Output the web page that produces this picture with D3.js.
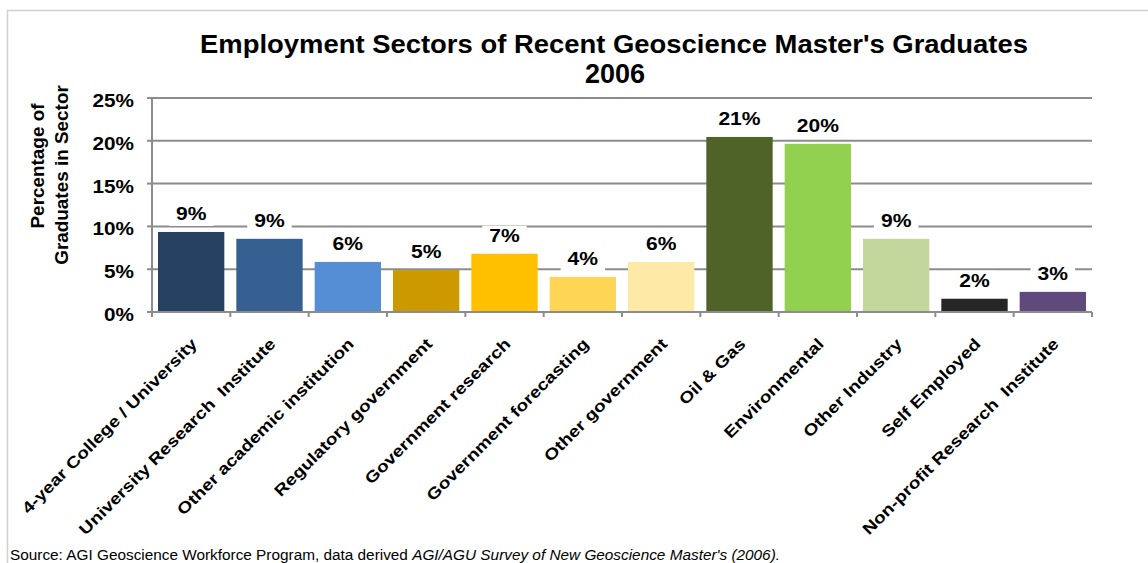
<!DOCTYPE html>
<html lang="en">
<head>
    <title>Employment Sectors</title>
    <style>
        body { margin: 0; background: #fff; }
        svg text { font-family: "Liberation Sans", Arial, sans-serif; }
        .grid line { stroke: #8c8c8c; stroke-width: 2; }
        .bar-label { font-weight: bold; font-size: 18px; fill: #000; }
        .ytick { font-weight: bold; font-size: 18px; }
        .xlabel { font-weight: bold; font-size: 16px; }
    </style>
</head>
<body>
<div id="chart"></div>
<script src="https://d3js.org/d3.v7.min.js"></script>
<script>
    var categories = ["4-year College / University", "University Research  Institute", "Other academic institution",
        "Regulatory government", "Government research", "Government forecasting", "Other government",
        "Oil & Gas", "Environmental", "Other Industry", "Self Employed", "Non-profit Research  Institute"];
    var values = [9.35, 8.55, 5.85, 4.9, 6.8, 4.1, 5.85, 20.45, 19.65, 8.55, 1.55, 2.35];
    var valueLabels = ["9%", "9%", "6%", "5%", "7%", "4%", "6%", "21%", "20%", "9%", "2%", "3%"];
    var barColors = ["#264061", "#376092", "#558ed5", "#cc9a00", "#ffc000", "#ffd556", "#ffe9a6",
        "#4f6228", "#92d050", "#c3d69b", "#262626", "#604a7b"];
    var yTicks = [0, 5, 10, 15, 20, 25];

    var width = 1148, height = 563;
    var margin = {left: 152, right: 56, top: 98, bottom: 251};

    // the original text renders wider than Liberation Sans, so widen glyphs a bit
    function stretch(sel, f) {
        sel.each(function () {
            var w = this.getComputedTextLength();
            d3.select(this).attr("textLength", w * f).attr("lengthAdjust", "spacingAndGlyphs");
        });
    }

    var svg = d3.select("#chart").append("svg")
        .attr("width", width).attr("height", height);

    // outer frame
    svg.append("path")
        .attr("d", "M7.5," + height + "V10.5H" + width)
        .attr("fill", "none").attr("stroke", "#d0d0d0").attr("stroke-width", 1.5);

    var x = d3.scaleBand().domain(categories).range([margin.left, width - margin.right]).padding(0);
    var y = d3.scaleLinear().domain([0, 25]).range([height - margin.bottom, margin.top]);

    // gridlines
    svg.append("g").attr("class", "grid").selectAll("line").data(yTicks.slice(1)).enter().append("line")
        .attr("x1", margin.left).attr("x2", width - margin.right)
        .attr("y1", function (d) { return y(d); }).attr("y2", function (d) { return y(d); });

    // y tick labels
    svg.append("g").selectAll("text").data(yTicks).enter().append("text")
        .attr("class", "ytick")
        .attr("x", margin.left - 18)
        .attr("y", function (d) { return y(d) + 9; })
        .attr("text-anchor", "end")
        .text(function (d) { return d + "%"; })
        .call(stretch, 1.15);

    // bars
    svg.append("g").selectAll("rect").data(values).enter().append("rect")
        .attr("x", function (d, i) { return x(categories[i]) + 6; })
        .attr("width", x.bandwidth() - 12)
        .attr("y", function (d) { return y(d); })
        .attr("height", function (d) { return y(0) - y(d); })
        .attr("fill", function (d, i) { return barColors[i]; });

    // data labels with white boxes behind them
    var lab = svg.append("g").selectAll("g").data(values).enter().append("g");
    var boxes = lab.append("rect").attr("fill", "#fff");
    var labTxt = lab.append("text")
        .attr("class", "bar-label")
        .attr("x", function (d, i) { return x(categories[i]) + x.bandwidth() / 2; })
        .attr("y", function (d) { return y(d) - 12; })
        .attr("text-anchor", "middle")
        .text(function (d, i) { return valueLabels[i]; })
        .call(stretch, 1.17);
    boxes.each(function (d, i) {
        var w = +labTxt.nodes()[i].getAttribute("textLength") + 14;
        d3.select(this)
            .attr("x", x(categories[i]) + x.bandwidth() / 2 - w / 2)
            .attr("width", w)
            .attr("y", y(d) - 28)
            .attr("height", 22);
    });

    // x axis line and ticks
    var axisY = y(0);
    svg.append("line").attr("x1", margin.left).attr("x2", width - margin.right)
        .attr("y1", axisY).attr("y2", axisY).attr("stroke", "#8c8c8c").attr("stroke-width", 2);
    svg.append("line").attr("x1", margin.left).attr("x2", margin.left)
        .attr("y1", margin.top).attr("y2", axisY + 5).attr("stroke", "#8c8c8c").attr("stroke-width", 2);
    var bounds = categories.map(function (c) { return x(c); }).concat([width - margin.right]);
    svg.append("g").selectAll("line").data(bounds).enter().append("line")
        .attr("x1", function (d) { return d; }).attr("x2", function (d) { return d; })
        .attr("y1", axisY).attr("y2", axisY + 5)
        .attr("stroke", "#8c8c8c").attr("stroke-width", 2);

    // y tick marks
    svg.append("g").selectAll("line").data(yTicks).enter().append("line")
        .attr("x1", margin.left - 5).attr("x2", margin.left)
        .attr("y1", function (d) { return y(d); }).attr("y2", function (d) { return y(d); })
        .attr("stroke", "#8c8c8c").attr("stroke-width", 2);

    // category labels
    svg.append("g").selectAll("text").data(categories).enter().append("text")
        .attr("class", "xlabel")
        .attr("text-anchor", "end")
        .attr("transform", function (d) {
            return "translate(" + (x(d) + x.bandwidth() / 2 + 7) + "," + (axisY + 33) + ") rotate(-45)";
        })
        .style("white-space", "pre")
        .text(function (d) { return d; })
        .call(stretch, 1.2);

    // title
    svg.append("text").attr("x", 614).attr("y", 53).attr("text-anchor", "middle")
        .style("font-weight", "bold").style("font-size", "25px")
        .attr("textLength", 828).attr("lengthAdjust", "spacingAndGlyphs")
        .text("Employment Sectors of Recent Geoscience Master's Graduates");
    svg.append("text").attr("x", 615).attr("y", 83).attr("text-anchor", "middle")
        .style("font-weight", "bold").style("font-size", "27px")
        .text("2006");

    // y axis title
    svg.append("text").attr("transform", "translate(44,166) rotate(-90)")
        .attr("text-anchor", "middle").style("font-weight", "bold").style("font-size", "18px")
        .text("Percentage of").call(stretch, 1.05);
    svg.append("text").attr("transform", "translate(68,175) rotate(-90)")
        .attr("text-anchor", "middle").style("font-weight", "bold").style("font-size", "18px")
        .text("Graduates in Sector").call(stretch, 1.05);

    // source note
    var src = svg.append("text").attr("x", 10).attr("y", 560).style("font-size", "14px")
        .attr("textLength", 770).attr("lengthAdjust", "spacingAndGlyphs");
    src.append("tspan").text("Source: AGI Geoscience Workforce Program, data derived ");
    src.append("tspan").style("font-style", "italic").text("AGI/AGU Survey of New Geoscience Master's (2006).");
</script>
</body>
</html>
